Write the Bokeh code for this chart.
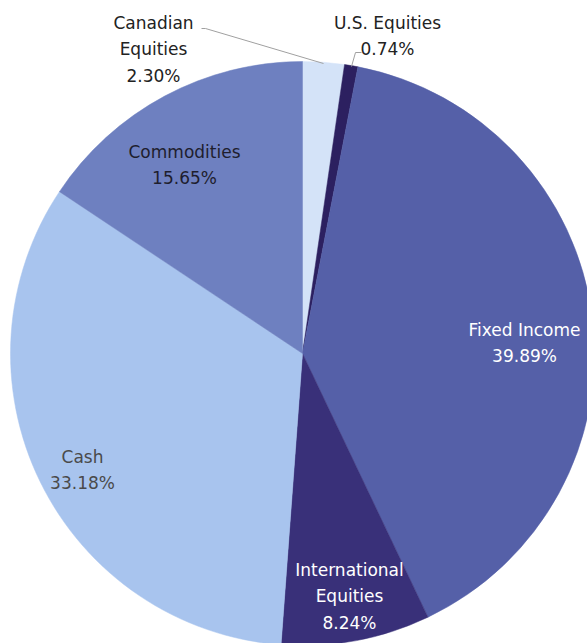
import math
from bokeh.plotting import figure
from bokeh.models import Range1d, ColumnDataSource
from bokeh.core.properties import value
from bokeh.embed import file_html
from bokeh.resources import INLINE

# ---- data ----
names = ["Canadian Equities", "U.S. Equities", "Fixed Income", "International Equities", "Cash", "Commodities"]
label_lines = [["Canadian", "Equities"], ["U.S. Equities"], ["Fixed Income"], ["International", "Equities"], ["Cash"], ["Commodities"]]
percents = [2.30, 0.74, 39.89, 8.24, 33.18, 15.65]

# ---- style / layout ----
W, H = 587, 643
colors = ["#d4e3f8", "#2c2060", "#5560a8", "#393079", "#a8c4ee", "#6e80c0"]
text_colors = ["#222222", "#222222", "#ffffff", "#ffffff", "#4a4a4a", "#1e1e2e"]
CX, CY_PX, R = 302, 353, 292
# label block centers (pixel coords, top-left origin): first line y
label_pos = {
    "Canadian Equities": (153, 22),
    "U.S. Equities": (387, 22),
    "Fixed Income": (524, 329),
    "International Equities": (349, 569),
    "Cash": (82, 456),
    "Commodities": (184, 151),
}
LINE_H = 26.5
FONT = "DejaVu Sans"

p = figure(width=W, height=H, output_backend="svg", toolbar_location=None,
           x_range=Range1d(0, W), y_range=Range1d(0, H), min_border=0)
p.axis.visible = False
p.grid.visible = False
p.outline_line_color = None
p.background_fill_color = "white"
p.border_fill_color = "white"

total = sum(percents)
cum = 0.0
starts, ends = [], []
for v in percents:
    a0 = math.pi / 2 - 2 * math.pi * cum / total
    cum += v
    a1 = math.pi / 2 - 2 * math.pi * cum / total
    starts.append(a0)
    ends.append(a1)

src = ColumnDataSource(dict(start=starts, end=ends, color=colors,
                            x=[CX] * len(percents), y=[H - CY_PX] * len(percents)))
p.wedge(x="x", y="y", radius=R, start_angle="start", end_angle="end", direction="clock",
        fill_color="color", line_color="color", line_width=0.5, source=src)

# leader lines
p.line([201, 205, 323], [H - 28, H - 28, H - 63], line_color="#a0a0a0", line_width=1)
p.line([351, 355, 361], [H - 66, H - 52, H - 52], line_color="#a0a0a0", line_width=1)

tx, ty, tt, tc = [], [], [], []
for name, lines, pct, col in zip(names, label_lines, percents, text_colors):
    lx, ly = label_pos[name]
    allines = lines + [f"{pct:.2f}%"]
    for i, t in enumerate(allines):
        tx.append(lx)
        ty.append(H - (ly + i * LINE_H))
        tt.append(t)
        tc.append(col)

p.text(x=tx, y=ty, text=tt, text_color=tc, text_align="center", text_baseline="middle",
       text_font=value(FONT), text_font_size="17px")

open("out.html", "w").write(file_html(p, INLINE))
